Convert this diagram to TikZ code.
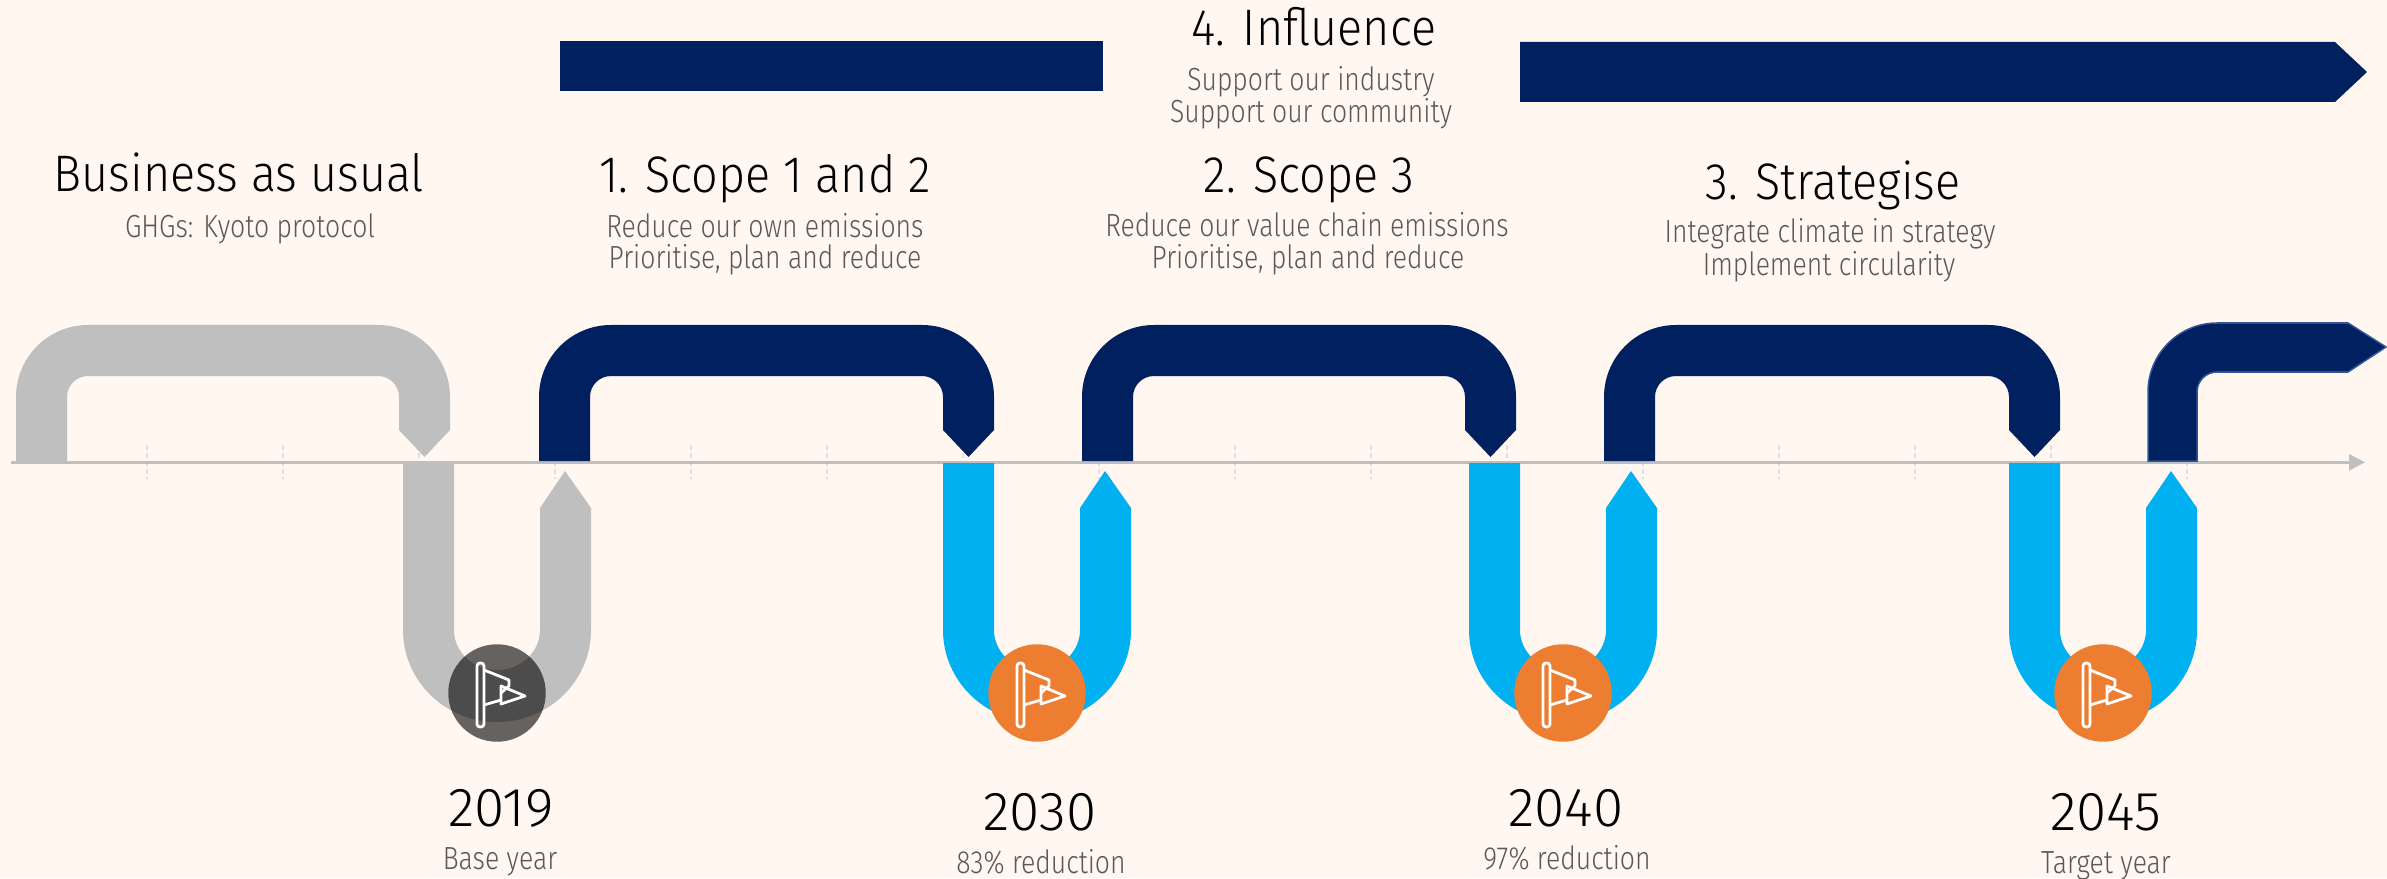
\documentclass[tikz,border=0pt]{standalone}
\usepackage{fontspec}
\setmainfont{Fira Sans Light}
\newfontfamily\headfont[FakeStretch=0.91]{Fira Sans Light}
\newfontfamily\subfont[FakeStretch=0.83]{Fira Sans Light}
\usetikzlibrary{arrows.meta}
\definecolor{paper}{HTML}{FFF7F0}
\definecolor{navy}{HTML}{002060}
\definecolor{navyedge}{HTML}{2F5597}
\definecolor{sky}{HTML}{00B0F0}
\definecolor{pale}{HTML}{BFBFBF}
\definecolor{amber}{HTML}{ED7D31}
\definecolor{subgrey}{HTML}{595959}
\tikzset{
  headtext/.style={anchor=base,inner sep=0pt,font=\headfont\fontsize{14.6}{18}\selectfont},
  subtext/.style={anchor=base,inner sep=0pt,text=subgrey,font=\subfont\fontsize{9.1}{12}\selectfont},
  yeartext/.style={anchor=base,inner sep=0pt,font=\fontsize{15.6}{18}\selectfont},
  flagdot/.style={circle,inner sep=0pt,minimum size=0.974cm},
  flagicon/.pic={
    \draw[white,line width=0.028cm,rounded corners=0.03cm] (-20,-34) rectangle (-13,30);
    \draw[white,line width=0.028cm,line join=round] (-13,23) -- (12,13) -- (12,7) -- (4,0);
    \draw[white,line width=0.028cm,line join=round] (4,7) -- (28,-3) -- (4,-11) -- cycle;
    \draw[white,line width=0.028cm] (-13,-12) -- (4,-7);
  }
}
\begin{document}
\begin{tikzpicture}[x=0.01cm,y=0.01cm]
  \useasboundingbox[fill=paper] (0,0) rectangle (2387,878);
  % ticks under the time line
  \foreach \k in {0,...,15} {
    \draw[pale!50,line width=0.012cm,dash pattern=on 0.05cm off 0.03cm] (147+136*\k,433) -- (147+136*\k,399);
  }
  \coordinate (axisstart) at (11,415.7);
  \coordinate (axisend) at (2365,415.7);
  \draw[pale,line width=0.025cm,-{Triangle[length=0.16cm,width=0.16cm]}] (axisstart) -- (axisend);
  % upper arches
  \foreach \xa/\xb/\col in {16/450/pale,539/994/navy,1082/1516/navy,1604/2060/navy} {
    \fill[\col] (\xa,417) -- (\xa,481) arc[start angle=180,end angle=90,radius=72]
      -- (\xb-72,553) arc[start angle=90,end angle=0,radius=72]
      -- (\xb,448) -- (\xb-25.5,421) -- (\xb-51,448) -- (\xb-51,481)
      arc[start angle=0,end angle=90,radius=21] -- (\xa+72,502)
      arc[start angle=90,end angle=180,radius=21] -- (\xa+51,417) -- cycle;
  }
  % last arch runs out to the right
  \filldraw[fill=navy,draw=navyedge,line width=0.015cm] (2148,417) -- (2148,486)
    arc[start angle=180,end angle=90,radius=69] -- (2348,555) -- (2386,531) -- (2348,506)
    -- (2217,506) arc[start angle=90,end angle=180,radius=20] -- (2197,417) -- cycle;
  % lower loops
  \foreach \cx/\col in {497/pale,1037/sky,1563/sky,2103/sky} {
    \fill[\col] (\cx-94,415) -- (\cx-94,248) arc[start angle=180,end angle=360,x radius=94,y radius=92]
      -- (\cx+94,370) -- (\cx+68,407) -- (\cx+43,370) -- (\cx+43,248)
      arc[start angle=360,end angle=180,x radius=43,y radius=40] -- (\cx-43,415) -- cycle;
  }
  % flag dots
  \node[flagdot,fill=black,fill opacity=0.6] (dot2019) at (497,185) {};
  \node[flagdot,fill=amber] (dot2030) at (1037,185) {};
  \node[flagdot,fill=amber] (dot2040) at (1563,185) {};
  \node[flagdot,fill=amber] (dot2045) at (2103,185) {};
  \foreach \yr in {2019,2030,2040,2045} {
    \pic at (dot\yr.center) {flagicon};
  }
  % bars on top
  \fill[navy] (560,787) rectangle (1103,837);
  \fill[navy] (1520,776) -- (2335,776) -- (2367,806) -- (2335,836) -- (1520,836) -- cycle;
  % headings
  \node[headtext] (bau) at (239,686) {Business as usual};
  \node[subtext] (bausub) at (250,640) {GHGs: Kyoto protocol};
  \node[headtext] (scopea) at (765,685) {1. Scope 1 and 2};
  \node[subtext] (scopeasuba) at (765,640) {Reduce our own emissions};
  \node[subtext] (scopeasubb) at (765,609) {Prioritise, plan and reduce};
  \node[headtext] (scopeb) at (1309,685) {2. Scope 3};
  \node[subtext] (scopebsuba) at (1307,641) {Reduce our value chain emissions};
  \node[subtext] (scopebsubb) at (1308,609) {Prioritise, plan and reduce};
  \node[headtext] (strat) at (1833,679) {3. Strategise};
  \node[subtext] (stratsuba) at (1830,635) {Integrate climate in strategy};
  \node[subtext] (stratsubb) at (1829,603) {Implement circularity};
  \node[headtext] (infl) at (1314,832) {4. Influence};
  \node[subtext] (inflsuba) at (1311,787) {Support our industry};
  \node[subtext] (inflsubb) at (1311,755) {Support our community};
  % years
  \node[yeartext] (y2019) at (501,52) {2019};
  \node[subtext] (y2019sub) at (500,9) {Base year};
  \node[yeartext] (y2030) at (1040,48) {2030};
  \node[subtext] (y2030sub) at (1041,5) {83\% reduction};
  \node[yeartext] (y2040) at (1566,52) {2040};
  \node[subtext] (y2040sub) at (1567,9) {97\% reduction};
  \node[yeartext] (y2045) at (2106,48) {2045};
  \node[subtext] (y2045sub) at (2106,5) {Target year};
\end{tikzpicture}
\end{document}
